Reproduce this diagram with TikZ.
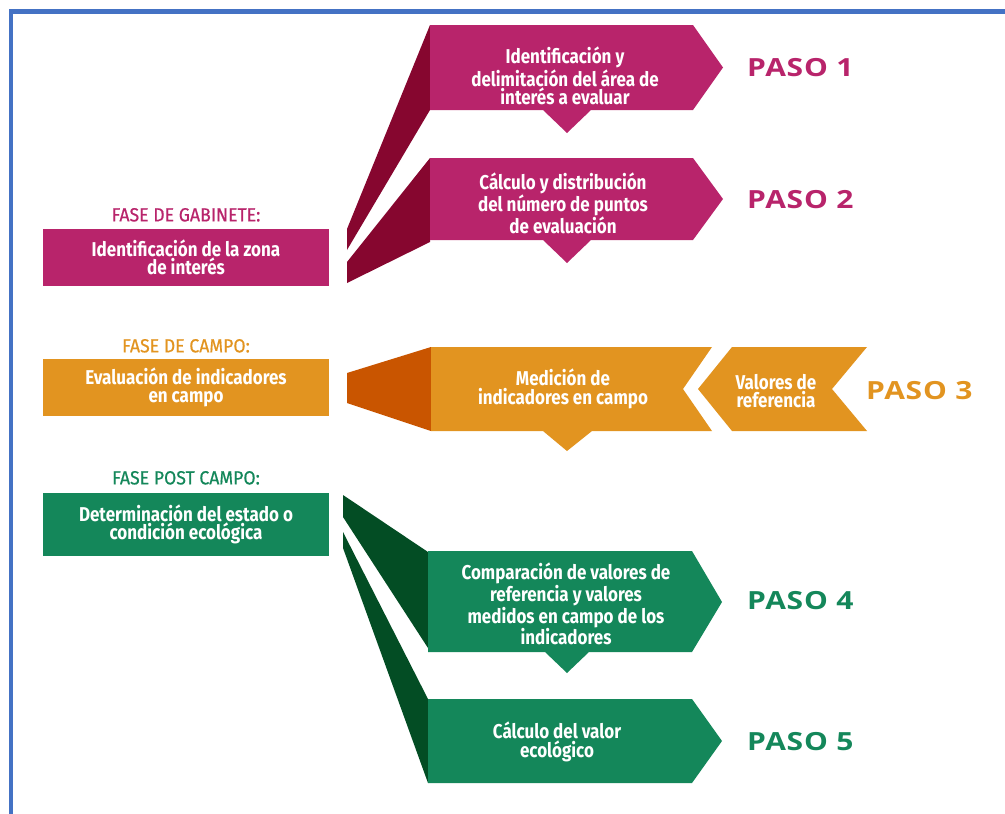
\documentclass[tikz,border=0pt]{standalone}
\usepackage{fontspec}
\setmainfont{Fira Sans}
\newfontfamily\cajafont[FakeStretch=0.85]{Fira Sans}
\newfontfamily\fasefont[FakeStretch=0.93,FakeBold=0.6]{Fira Sans}
\newfontfamily\pasofont[FakeStretch=1.2,LetterSpace=3]{Open Sans}
\usetikzlibrary{positioning}
\definecolor{mag}{HTML}{B8246B}
\definecolor{magosc}{HTML}{86062F}
\definecolor{nar}{HTML}{E29420}
\definecolor{narosc}{HTML}{C95500}
\definecolor{ver}{HTML}{14875A}
\definecolor{verosc}{HTML}{034D24}
\definecolor{marco}{HTML}{4472C4}
\tikzset{
  caja/.style={text=white,align=center,inner sep=0pt,
    font=\cajafont\bfseries\fontsize{20}{18.5}\selectfont},
  izq/.style={caja,minimum width=286pt},
  fase/.style={inner sep=0pt,font=\fasefont\fontsize{19}{19}\selectfont},
  paso/.style={anchor=west,inner sep=0pt,font=\pasofont\bfseries\fontsize{25}{27}\selectfont},
}

\begin{document}
\begin{tikzpicture}[x=1pt,y=-1pt]
  \useasboundingbox (0,0) rectangle (1005,814);
  \draw[marco,line width=4.5pt] (11,814) -- (11,11.5) -- (1005,11.5);

  \fill[magosc] (430,25) -- (430,110) -- (347,250) -- (347,229) -- cycle;
  \fill[magosc] (430,158) -- (430,242) -- (347,283) -- (347,262) -- cycle;
  \fill[mag] (430,25) -- (693,25) -- (723,67.5) -- (693,110) -- (591,110) -- (567,133)
    -- (543,110) -- (430,110) -- cycle;
  \fill[mag] (430,158) -- (693,158) -- (723,199) -- (693,240) -- (591,240) -- (567,263)
    -- (543,240) -- (430,240) -- cycle;

  \fill[narosc] (347,373) -- (431,347) -- (431,431) -- (347,403) -- cycle;
  \fill[nar] (431,347) -- (712,347) -- (683,389) -- (712,431) -- (592,431) -- (567,451)
    -- (543,431) -- (431,431) -- cycle;
  \fill[nar] (732,347) -- (867,347) -- (832,389) -- (867,431) -- (732,431) -- (698,389) -- cycle;

  \fill[verosc] (343,495) -- (428,552) -- (428,648) -- (343,517) -- cycle;
  \fill[verosc] (343,532) -- (428,699) -- (428,783) -- (343,548) -- cycle;
  \fill[ver] (428,551) -- (692,551) -- (722,602) -- (692,652) -- (589,652) -- (567,673)
    -- (545,652) -- (428,652) -- cycle;
  \fill[ver] (428,699) -- (692,699) -- (722,741) -- (692,783) -- (428,783) -- cycle;

  \node (zona) [izq,fill=mag,minimum height=57pt] at (186,257.5) {Identificación de la zona\\de interés};
  \node (gab) [fase,text=mag,above=7pt of zona] {FASE DE GABINETE:};
  \node (eval) [izq,fill=nar,minimum height=57pt] at (186,387.5) {Evaluación de indicadores\\en campo};
  \node (campo) [fase,text=nar,above=6pt of eval] {FASE DE CAMPO:};
  \node (det) [izq,fill=ver,minimum height=63pt] at (186,524.5) {Determinación del estado o\\condición ecológica};
  \node (post) [fase,text=ver,above=8pt of det] {FASE POST CAMPO:};

  \node (ident) [caja] at (565,76) {Identificación y\\delimitación del área de\\interés a evaluar};
  \node (calc) [caja] at (563,203) {Cálculo y distribución\\del número de puntos\\de evaluación};
  \node (med) [caja] at (563,389) {Medición de\\indicadores en campo};
  \node (val) [caja] at (776,391) {Valores de\\referencia};
  \node (comp) [caja] at (566,604) {Comparación de valores de\\referencia y valores\\medidos en campo de los\\indicadores};
  \node (valor) [caja] at (557,742) {Cálculo del valor\\ecológico};

  \node (p1) [paso,text=mag] at (747,68) {PASO 1};
  \node (p2) [paso,text=mag] at (747,200) {PASO 2};
  \node (p3) [paso,text=nar] at (866,391) {PASO 3};
  \node (p4) [paso,text=ver] at (747,601) {PASO 4};
  \node (p5) [paso,text=ver] at (747,742) {PASO 5};
\end{tikzpicture}
\end{document}
